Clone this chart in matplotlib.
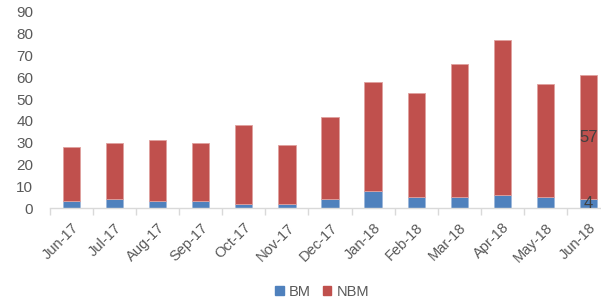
import numpy as np
from matplotlib import pyplot as plt
from matplotlib.patches import Patch

# data
months = ['Jun-17', 'Jul-17', 'Aug-17', 'Sep-17', 'Oct-17', 'Nov-17', 'Dec-17',
          'Jan-18', 'Feb-18', 'Mar-18', 'Apr-18', 'May-18', 'Jun-18']
bm = [3, 4, 3, 3, 2, 2, 4, 8, 5, 5, 6, 5, 4]
nbm = [25, 26, 28, 27, 36, 27, 38, 50, 48, 61, 71, 52, 57]

c_bm = '#4F81BD'
c_nbm = '#C0504D'
txt = '#595959'

plt.rcParams['font.family'] = ['Liberation Sans', 'DejaVu Sans']

fig = plt.figure(figsize=(6.01, 3.01), dpi=100)
ax = fig.add_axes([50/601, 93/301, 560/601, 196/301])

x = np.arange(len(months))
w = 0.4
ax.bar(x, bm, w, color=c_bm, edgecolor='#9DB7DA', linewidth=0.6)
ax.bar(x, nbm, w, bottom=bm, color=c_nbm, edgecolor='#E0A09E', linewidth=0.6)

# labels only on last bar
ax.text(x[-1], bm[-1] + nbm[-1]/2, str(nbm[-1]), ha='center', va='center',
        fontsize=12, color='#404040')
ax.text(x[-1], bm[-1]/2, str(bm[-1]), ha='center', va='center',
        fontsize=12, color='#404040')

ax.set_xlim(-0.5, len(months) - 0.5)
ax.set_ylim(0, 90)
ax.set_yticks(range(0, 91, 10))
ax.tick_params(axis='y', length=0, pad=12, labelsize=11, labelcolor=txt)

ax.set_xticks(x)
ax.set_xticklabels(months, rotation=45, ha='right', rotation_mode='anchor')
ax.tick_params(axis='x', which='major', length=0, pad=9, labelsize=10.5, labelcolor=txt)
ax.set_xticks(np.arange(-0.5, len(months), 1), minor=True)
ax.tick_params(axis='x', which='minor', length=5, color='#D9D9D9', width=1)

for s in ['top', 'right', 'left']:
    ax.spines[s].set_visible(False)
ax.spines['bottom'].set_color('#D9D9D9')
ax.spines['bottom'].set_linewidth(1)

# legend sits at the very bottom of the figure
handles = [Patch(color=c_bm, label='BM'), Patch(color=c_nbm, label='NBM')]
ax.legend(handles=handles, loc='center', bbox_to_anchor=(322/601, 9/301),
          bbox_transform=fig.transFigure, ncol=2, borderaxespad=0, borderpad=0,
          frameon=False, fontsize=10.5, handlelength=0.6, handleheight=0.6,
          handletextpad=0.35, columnspacing=0.8, labelcolor=txt)

fig.savefig('out.png', dpi=100)
